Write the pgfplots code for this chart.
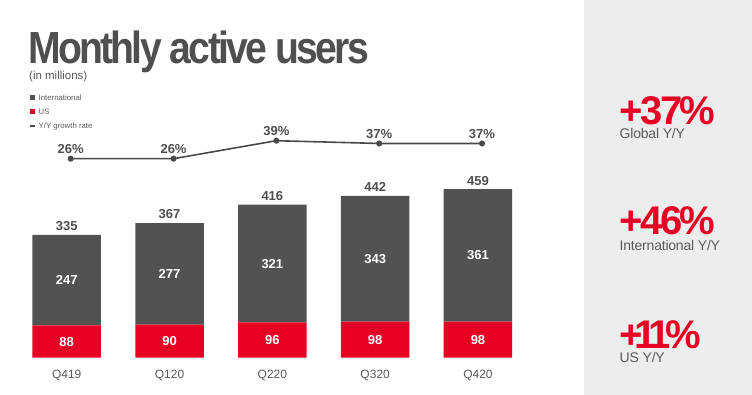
\documentclass[border=0pt]{standalone}
\usepackage{pgfplots}
\usepackage{pgfplotstable}
\pgfplotsset{compat=1.18}
\usepackage{fontspec}
\setmainfont{Liberation Sans}
\newfontfamily\titlefont[LetterSpace=-7]{Liberation Sans}
\newfontfamily\bigfont[LetterSpace=-6]{Liberation Sans}
\newfontfamily\tightfont[LetterSpace=-1.5]{Liberation Sans}
\definecolor{intl}{HTML}{525252}
\definecolor{usred}{HTML}{E60023}
\definecolor{txtgray}{HTML}{4F4F4F}
\definecolor{lblgray}{HTML}{5A5A5A}
\definecolor{linec}{HTML}{4A4A4A}
\definecolor{panel}{HTML}{EDEDED}

\pgfplotstableread{
x us intl total
0 88 247 335
1 90 277 367
2 96 321 416
3 98 343 442
4 98 361 459
}\mau

\pgfplotstableread{
x growth
0 26
1 26
2 39
3 37
4 37
}\growth

\begin{document}
\begin{tikzpicture}[x=1pt,y=1pt]
\fill[white] (0,0) rectangle (752,395);
\fill[panel] (583.7,0) rectangle (752,395);

% bars
\begin{axis}[
  at={(15.3pt,37.3pt)}, anchor=south west, scale only axis,
  width=514.1pt, height=183.5pt,
  xmin=-0.5, xmax=4.5, ymin=0, ymax=500,
  ybar stacked, bar width=68.5pt,
  axis line style={draw=none}, tick style={draw=none},
  ytick=\empty, xtick={0,1,2,3,4},
  xticklabels={Q419,Q120,Q220,Q320,Q420},
  xticklabel style={font=\fontsize{12}{12}\selectfont, text=lblgray, anchor=base, yshift=-21pt},
  clip=false,
]
\addplot[fill=usred, draw=none] table[x=x,y=us]{\mau};
\addplot[fill=intl, draw=none] table[x=x,y=intl]{\mau};
\end{axis}

% value labels (same geometry as bars)
\begin{axis}[
  at={(15.3pt,37.3pt)}, anchor=south west, scale only axis,
  width=514.1pt, height=183.5pt,
  xmin=-0.5, xmax=4.5, ymin=0, ymax=500,
  hide axis, clip=false,
  /pgf/number format/assume math mode=true,
]
\addplot[draw=none, mark=none, point meta=explicit,
  nodes near coords={\pgfmathprintnumber{\pgfplotspointmeta}},
  every node near coord/.append style={font=\bfseries\fontsize{13}{13}\selectfont, text=white, anchor=center}
] table[x=x, y expr=\thisrow{us}/2, meta=us]{\mau};
\addplot[draw=none, mark=none, point meta=explicit,
  nodes near coords={\pgfmathprintnumber{\pgfplotspointmeta}},
  every node near coord/.append style={font=\bfseries\fontsize{13}{13}\selectfont, text=white, anchor=center}
] table[x=x, y expr=\thisrow{us}+\thisrow{intl}/2, meta=intl]{\mau};
\addplot[draw=none, mark=none, point meta=explicit,
  nodes near coords={\pgfmathprintnumber{\pgfplotspointmeta}},
  every node near coord/.append style={font=\bfseries\fontsize{13}{13}\selectfont, text=txtgray, anchor=south, yshift=0.5pt}
] table[x=x, y expr=\thisrow{us}+\thisrow{intl}, meta=total]{\mau};
\end{axis}

% growth line
\begin{axis}[
  at={(19.3pt,228pt)}, anchor=south west, scale only axis,
  width=514.1pt, height=34.6pt,
  xmin=-0.5, xmax=4.5, ymin=20, ymax=45,
  hide axis, clip=false,
  /pgf/number format/assume math mode=true,
]
\addplot[color=linec, line width=1.6pt, mark=*, mark size=2.2pt, mark options={fill=linec},
  nodes near coords={\pgfmathprintnumber{\pgfplotspointmeta}\%},
  every node near coord/.append style={font=\bfseries\fontsize{13}{13}\selectfont, text=txtgray, anchor=south, yshift=1pt}
] table[x=x,y=growth]{\growth};
\end{axis}

% title
\node[anchor=base west, inner sep=0, text=txtgray] at (28,331.5)
  {\scalebox{0.87}[1]{\titlefont\bfseries\fontsize{45}{45}\selectfont Monthly active users}};
\node[anchor=base west, inner sep=0, text=lblgray] at (29,315.5)
  {\fontsize{11.5}{11.5}\selectfont (in millions)};

% legend
\fill[intl] (30,295) rectangle (35,300);
\node[anchor=west, inner sep=0, text=lblgray, font=\fontsize{7.8}{8}\selectfont] at (38.5,297.5) {International};
\fill[usred] (30,281) rectangle (35,286);
\node[anchor=west, inner sep=0, text=lblgray, font=\fontsize{7.8}{8}\selectfont] at (38.5,283.5) {US};
\draw[linec, line width=1.6pt] (30,269) -- (35,269);
\node[anchor=west, inner sep=0, text=lblgray, font=\fontsize{7.8}{8}\selectfont] at (38.5,269) {Y/Y growth rate};

% right panel
\node[anchor=base west, inner sep=0, text=usred] at (619,270)
  {\bigfont\bfseries\fontsize{40}{40}\selectfont +37\%};
\node[anchor=base west, inner sep=0, text=lblgray] at (619.5,256.5)
  {\tightfont\fontsize{14}{14}\selectfont Global Y/Y};
\node[anchor=base west, inner sep=0, text=usred] at (619,160)
  {\bigfont\bfseries\fontsize{40}{40}\selectfont +46\%};
\node[anchor=base west, inner sep=0, text=lblgray] at (619.5,144.3)
  {\tightfont\fontsize{14}{14}\selectfont International Y/Y};
\node[anchor=base west, inner sep=0, text=usred] at (619,46.7)
  {\bigfont\bfseries\fontsize{40}{40}\selectfont +\kern-8pt1\kern-8pt1\kern-6pt\%};
\node[anchor=base west, inner sep=0, text=lblgray] at (619.5,32.5)
  {\tightfont\fontsize{14}{14}\selectfont US Y/Y};

\pgfresetboundingbox
\useasboundingbox (0,0) rectangle (752,395);
\end{tikzpicture}
\end{document}
